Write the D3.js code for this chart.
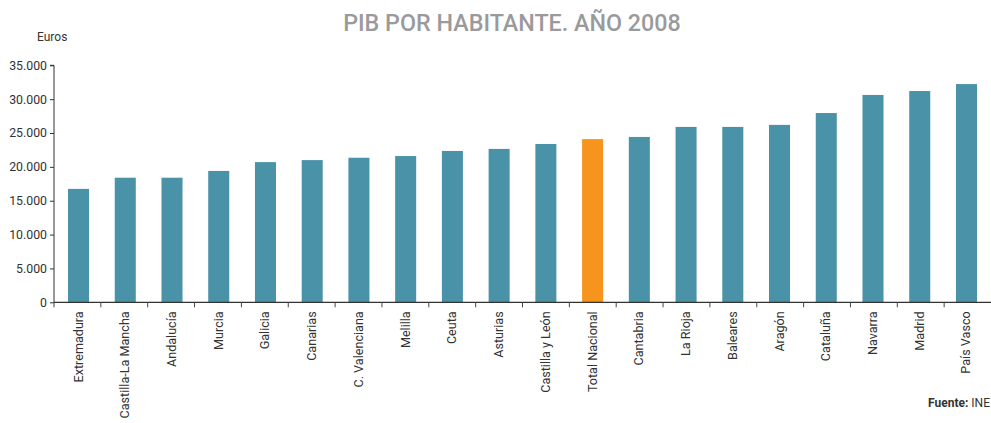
<!DOCTYPE html>
<html><head><meta charset="utf-8">
<script src="https://cdn.jsdelivr.net/npm/d3@7"></script>
<style>
html,body{margin:0;padding:0;background:#fff;}
svg{display:block;font-family:Roboto, "DejaVu Sans", sans-serif;}
</style></head>
<body>
<svg id="chart" width="991" height="423"></svg>
<script>
const categories = ["Extremadura","Castilla-La Mancha","Andalucía","Murcia","Galicia","Canarias","C. Valenciana","Melilla","Ceuta","Asturias","Castilla y León","Total Nacional","Cantabria","La Rioja","Baleares","Aragón","Cataluña","Navarra","Madrid","País Vasco"];
const values = [16750,18400,18400,19400,20700,21000,21350,21600,22350,22650,23380,24100,24420,25900,25900,26200,27950,30620,31200,32230];
const highlight = ["Total Nacional"];
const yTicks = [0,5000,10000,15000,20000,25000,30000,35000];
const title = "PIB POR HABITANTE. AÑO 2008";
const yLabel = "Euros";
const source = "INE";

const svg = d3.select("#chart");
const x0 = 54, x1 = 991, yTop = 65.3, yBot = 302.3;
const x = d3.scaleBand().domain(categories).range([x0, x1]).paddingInner(0.55).paddingOuter(0.3);
const y = d3.scaleLinear().domain([0, 35000]).range([yBot, yTop]);
const fmt = v => d3.format(",")(v).replace(/,/g, ".");

svg.append("text").attr("x", 512).attr("y", 31).attr("text-anchor","middle")
  .attr("fill","#9a9a9c").attr("font-size",23.3).attr("font-weight",500).text(title);
svg.append("text").attr("x", 37).attr("y", 41).attr("fill","#333").attr("font-size",12).text(yLabel);

svg.selectAll("rect.bar").data(categories).enter().append("rect")
  .attr("x", d => x(d)).attr("width", x.bandwidth())
  .attr("y", (d,i) => y(values[i])).attr("height", (d,i) => y(0) - y(values[i]))
  .attr("fill", d => highlight.includes(d) ? "#f7941d" : "#4a92a8");

const yAxis = svg.append("g").attr("transform", `translate(${x0},0)`)
  .call(d3.axisLeft(y).tickValues(yTicks).tickFormat(fmt).tickSize(4).tickPadding(3));
yAxis.select(".domain").attr("stroke","#333").attr("d", `M-4,${yTop}H0V${yBot}`);
yAxis.selectAll(".tick line").attr("stroke","#333");
yAxis.selectAll(".tick text").attr("fill","#333").attr("font-size",12.3).attr("font-family","Roboto, sans-serif");

const bandLeft = d3.scaleBand().domain(categories).range([x0, x1]);
const xAxis = svg.append("g").attr("transform", `translate(0,${yBot})`);
xAxis.append("line").attr("x1", x0).attr("x2", x1).attr("stroke","#333").attr("stroke-width",1.3);
xAxis.selectAll("line.tk").data(categories).enter().append("line")
  .attr("x1", d => bandLeft(d)).attr("x2", d => bandLeft(d)).attr("y1",0).attr("y2",5)
  .attr("stroke","#444");
xAxis.selectAll("text.lb").data(categories).enter().append("text")
  .attr("transform", d => `translate(${x(d) + x.bandwidth()/2 + 4},9) rotate(-90)`)
  .attr("text-anchor","end").attr("fill","#333").attr("font-size",12.6).text(d => d);

const src = svg.append("text").attr("x", 990).attr("y", 407).attr("text-anchor","end")
  .attr("fill","#333").attr("font-size",12);
src.append("tspan").attr("font-weight","bold").text("Fuente: ");
src.append("tspan").text(source);
</script>
</body></html>
